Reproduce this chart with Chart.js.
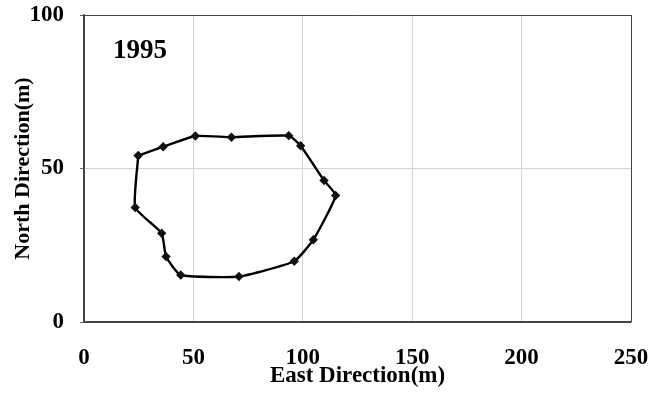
<!DOCTYPE html>
<html>
<head>
<meta charset="utf-8">
<script src="https://cdn.jsdelivr.net/npm/chart.js@4"></script>
<style>
  html, body { margin: 0; padding: 0; background: #fff; }
  #wrap { width: 664px; height: 396px; }
</style>
</head>
<body>
<div id="wrap"><canvas id="grafico" width="664" height="396"></canvas></div>
<script>
// --- DADOS ---
const eastValues = [24.8, 36.2, 50.9, 67.4, 93.6, 99.0, 109.7, 115.0, 104.8, 96.1, 70.8, 44.2, 37.5, 35.5, 23.4, 24.8];
const northValues = [54.2, 57.1, 60.6, 60.2, 60.7, 57.4, 46.1, 41.2, 26.8, 19.8, 14.8, 15.3, 21.3, 28.9, 37.3, 54.2];
const xTicks = [0, 50, 100, 150, 200, 250];
const yTicks = [0, 50, 100];
const yearLabel = '1995';
const yearPos = [25.6, 88.3];

const FONTE = "'Liberation Serif', 'Times New Roman', serif";

const pontos = eastValues.map((v, i) => ({ x: v, y: northValues[i] }));

// texto do ano dentro da área do gráfico
const anoPlugin = {
  id: 'ano',
  afterDraw(chart) {
    const ctx = chart.ctx;
    const px = chart.scales.x.getPixelForValue(yearPos[0]);
    const py = chart.scales.y.getPixelForValue(yearPos[1]);
    ctx.save();
    ctx.font = 'bold 27px ' + FONTE;
    ctx.fillStyle = '#000';
    ctx.textAlign = 'center';
    ctx.textBaseline = 'middle';
    ctx.fillText(yearLabel, px, py);
    ctx.restore();
  }
};

function corGrelha(ctx, min, max) {
  const v = ctx.tick ? ctx.tick.value : null;
  if (v === min || v === max) return '#444';
  return '#d4d4d4';
}

new Chart(document.getElementById('grafico').getContext('2d'), {
  type: 'scatter',
  data: {
    datasets: [{
      data: pontos,
      showLine: true,
      borderColor: '#000',
      borderWidth: 2.4,
      tension: 0.15,
      pointStyle: 'rectRot',
      pointRadius: 3,
      pointBackgroundColor: '#111',
      pointBorderColor: '#111'
    }]
  },
  options: {
    responsive: false,
    animation: false,
    layout: { padding: { left: 0, top: 15, right: 33, bottom: 0 } },
    plugins: { legend: { display: false }, tooltip: { enabled: false } },
    scales: {
      x: {
        type: 'linear',
        min: 0, max: 250,
        afterBuildTicks: s => { s.ticks = xTicks.map(v => ({ value: v })); },
        afterFit: s => { s.height = 74; s.paddingLeft = 0; s.paddingRight = 0; },
        grid: { color: c => corGrelha(c, 0, 250), lineWidth: 1, drawTicks: false },
        border: { color: '#444', width: 1.5 },
        ticks: { color: '#000', padding: 22, font: { family: FONTE, size: 23, weight: 'bold' } },
        title: {
          display: true, text: 'East Direction(m)', color: '#000',
          padding: { top: 0, bottom: 6 },
          font: { family: FONTE, size: 23, weight: 'bold' }
        }
      },
      y: {
        type: 'linear',
        min: 0, max: 100,
        afterBuildTicks: s => { s.ticks = yTicks.map(v => ({ value: v })); },
        afterFit: s => { s.width = 84; s.paddingTop = 0; s.paddingBottom = 0; },
        grid: { color: c => corGrelha(c, 0, 100), lineWidth: 1, drawTicks: true, tickLength: 4, tickColor: '#666' },
        border: { color: '#444', width: 1.5 },
        ticks: { color: '#000', padding: 16, font: { family: FONTE, size: 23, weight: 'bold' } },
        title: {
          display: true, text: 'North Direction(m)', color: '#000',
          padding: { top: 10, bottom: 0 },
          font: { family: FONTE, size: 22, weight: 'bold' }
        }
      }
    }
  },
  plugins: [anoPlugin]
});
</script>
</body>
</html>
